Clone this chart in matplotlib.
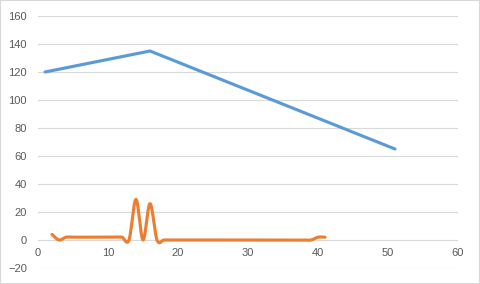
import numpy as np
import matplotlib
matplotlib.use("Agg")
import matplotlib.pyplot as plt

# series 1 (straight)
blue_x = [1, 16, 51]
blue_y = [120, 135, 65]

# series 2 (smoothed in the original)
orange_x = list(range(2, 42))
orange_y = [4, 0, 2, 2, 2, 2, 2, 2, 2, 2, 2, 0, 29, 0, 26, 0,
            0, 0, 0, 0, 0, 0, 0, 0, 0, 0, 0, 0, 0, 0, 0, 0,
            0, 0, 0, 0, 0, 0, 2, 2]

xticks = [0, 10, 20, 30, 40, 50, 60]
yticks = [-20, 0, 20, 40, 60, 80, 100, 120, 140, 160]


def smooth(xs, ys, n=20):
    # catmull-rom style bezier, like excel's smoothed line
    p = np.column_stack([xs, ys]).astype(float)
    p = np.vstack([p[0], p, p[-1]])
    out = []
    for i in range(1, len(p) - 2):
        p0, p1, p2, p3 = p[i - 1], p[i], p[i + 1], p[i + 2]
        c1 = p1 + (p2 - p0) / 6
        c2 = p2 - (p3 - p1) / 6
        t = np.linspace(0, 1, n)[:, None]
        seg = ((1 - t) ** 3) * p1 + 3 * ((1 - t) ** 2) * t * c1 + 3 * (1 - t) * t ** 2 * c2 + t ** 3 * p2
        out.append(seg)
    out = np.vstack(out)
    return out[:, 0], out[:, 1]


plt.rcParams['font.family'] = ['Liberation Sans', 'DejaVu Sans']

fig = plt.figure(figsize=(4.8, 2.84), dpi=100)
fig.patches.append(plt.Rectangle((0, 0), 1, 1, transform=fig.transFigure,
                                 fill=False, edgecolor='#d9d9d9', linewidth=1.5))
ax = fig.add_axes([38 / 480, 1 - 268 / 284, 420 / 480, 252 / 284])

ax.plot(blue_x, blue_y, color='#5b9bd5', linewidth=2.25, solid_capstyle='round')
sx, sy = smooth(orange_x, orange_y)
ax.plot(sx, sy, color='#ed7d31', linewidth=2.25, solid_capstyle='round')

ax.set_xlim(0, 60)
ax.set_ylim(-20, 160)
ax.set_xticks(xticks)
ax.set_yticks(yticks)
ax.grid(axis='y', color='#d9d9d9', linewidth=0.8)
ax.set_axisbelow(True)
for s in ['top', 'right', 'left']:
    ax.spines[s].set_visible(False)
ax.spines['bottom'].set_position(('data', 0))
ax.spines['bottom'].set_visible(False)
ax.tick_params(axis='both', length=0, labelsize=8, colors='#595959')
ax.tick_params(axis='y', pad=8)
ax.tick_params(axis='x', pad=6)

fig.savefig('out.png', dpi=100)
